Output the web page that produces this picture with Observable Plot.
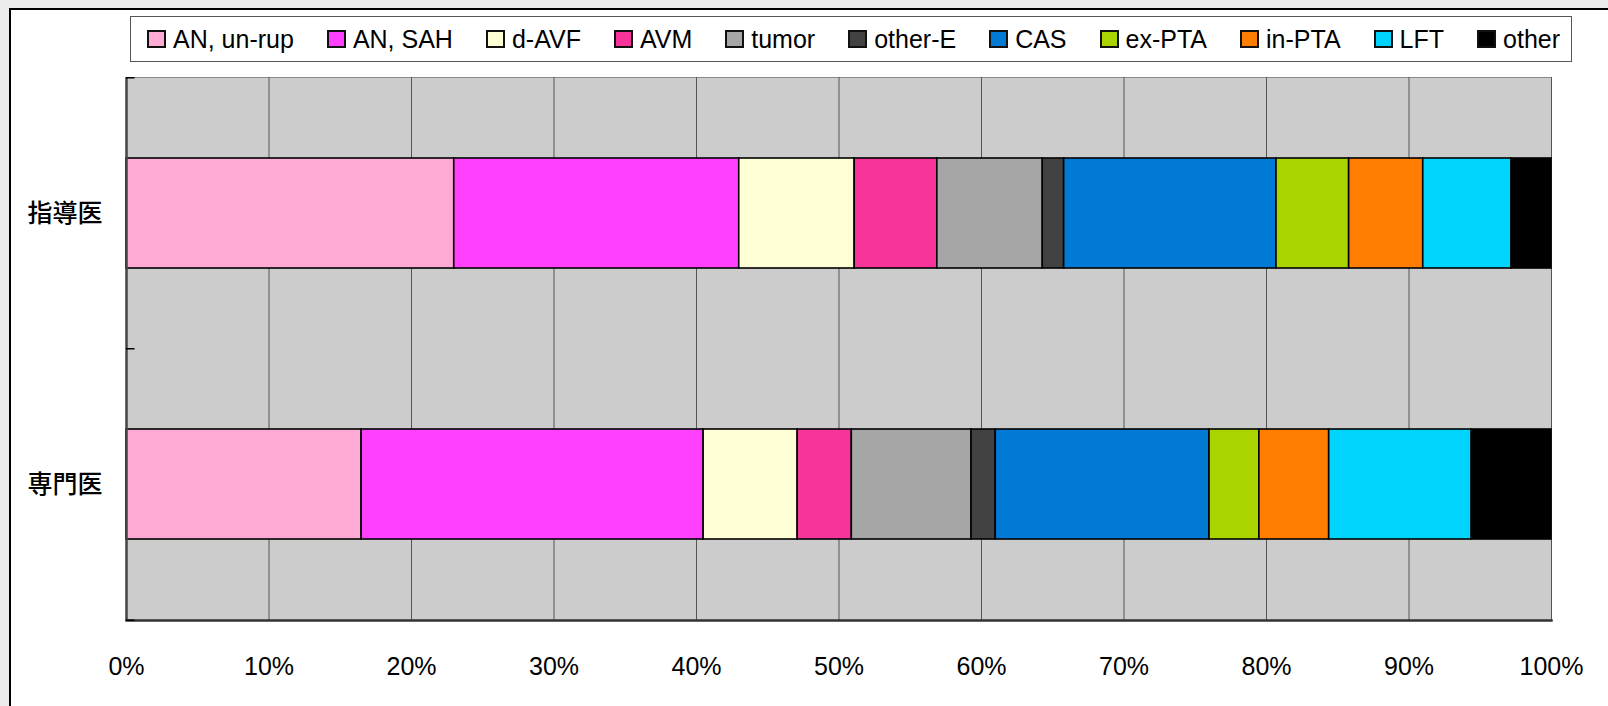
<!DOCTYPE html>
<html>
<head>
<meta charset="utf-8">
<script src="https://cdn.jsdelivr.net/npm/d3@7"></script>
<script src="https://cdn.jsdelivr.net/npm/@observablehq/plot@0.6"></script>
<style>
  html, body { margin: 0; padding: 0; background: #ececec; width: 1608px; height: 706px; overflow: hidden; }
  #panel { position: absolute; left: 9px; top: 8px; width: 1620px; height: 720px; background: #fff;
           border-top: 2px solid #000; border-left: 2px solid #000; box-sizing: border-box; }
  #chart { position: absolute; left: 0; top: 0; }
  #legend { position: absolute; left: 130px; top: 16px; width: 1442px; height: 46px; box-sizing: border-box;
            border: 1px solid #555; background: #fff; display: flex; align-items: center; padding-left: 16px;
            font-family: "Liberation Sans", Arial, sans-serif; font-size: 25px; color: #000; }
  .item { display: flex; align-items: center; margin-right: 33px; white-space: nowrap; }
  .sw { width: 19px; height: 18px; box-sizing: border-box; border: 2px solid #111; margin-right: 7px; }
</style>
</head>
<body>
<div id="panel"></div>
<div id="chart"></div>
<div id="legend"></div>
<script>
const categories = ["指導医", "専門医"];
const series = ["AN, un-rup", "AN, SAH", "d-AVF", "AVM", "tumor", "other-E", "CAS", "ex-PTA", "in-PTA", "LFT", "other"];
const colors = ["#ffaad4", "#ff40ff", "#ffffd5", "#f83399", "#a6a6a6", "#424242", "#007ad5", "#a9d400", "#ff7d00", "#00d4ff", "#000000"];
const valuesShidoi = [23.0, 20.0, 8.1, 5.8, 7.4, 1.5, 14.9, 5.1, 5.2, 6.2, 2.8];
const valuesSenmon = [16.5, 24.0, 6.6, 3.8, 8.4, 1.7, 15.0, 3.5, 4.9, 10.0, 5.6];
const xTicks = [0, 0.1, 0.2, 0.3, 0.4, 0.5, 0.6, 0.7, 0.8, 0.9, 1];
const xTickLabels = ["0%", "10%", "20%", "30%", "40%", "50%", "60%", "70%", "80%", "90%", "100%"];

const table = [];
[valuesShidoi, valuesSenmon].forEach((vals, ci) => {
  vals.forEach((v, si) => table.push({cat: categories[ci], series: series[si], value: v}));
});

const plotH = 706 - 77 - 86;
const halfStep = plotH / categories.length / 2;

const chart = Plot.plot({
  width: 1608,
  height: 706,
  marginLeft: 126,
  marginRight: 57,
  marginTop: 77,
  marginBottom: 86,
  style: {background: "transparent", fontFamily: "Liberation Sans, Arial, sans-serif", fontSize: "25px", color: "#000"},
  x: {domain: [0, 1], axis: null, label: null},
  y: {domain: categories, paddingInner: 0.595, paddingOuter: 0.2975, axis: null, label: null},
  color: {domain: series, range: colors},
  marks: [
    Plot.frame({fill: "#cccccc", stroke: "#888", strokeWidth: 1}),
    Plot.ruleX(xTicks, {stroke: "#555", strokeWidth: 1}),
    Plot.barX(table, Plot.stackX({x: "value", y: "cat", fill: "series", offset: "normalize", stroke: "#000", strokeWidth: 1.6})),
    Plot.ruleX([0], {stroke: "#444", strokeWidth: 2.5}),
    Plot.frame({anchor: "bottom", stroke: "#333", strokeWidth: 2.5}),
    Plot.ruleY(categories, {y: d => d, x1: 0, x2: 0.006, dy: -halfStep, stroke: "#000", strokeWidth: 1.5}),
    Plot.ruleY(categories.slice(-1), {y: d => d, x1: 0, x2: 0.006, dy: halfStep, stroke: "#000", strokeWidth: 1.5}),
    Plot.axisX({ticks: xTicks, tickFormat: (d, i) => xTickLabels[i], tickSize: 0, tickPadding: 37, label: null, fontSize: 25, fontFamily: "Liberation Sans, Arial, sans-serif"}),
    Plot.axisY({tickSize: 0, tickPadding: 24, label: null, fontSize: 25, fontWeight: 500, fontFamily: "Noto Sans CJK JP, sans-serif"})
  ]
});
document.getElementById("chart").appendChild(chart);

const legend = document.getElementById("legend");
series.forEach((s, i) => {
  const item = document.createElement("div");
  item.className = "item";
  const sw = document.createElement("div");
  sw.className = "sw";
  sw.style.background = colors[i];
  const t = document.createElement("span");
  t.textContent = s;
  item.appendChild(sw);
  item.appendChild(t);
  legend.appendChild(item);
});
</script>
</body>
</html>
